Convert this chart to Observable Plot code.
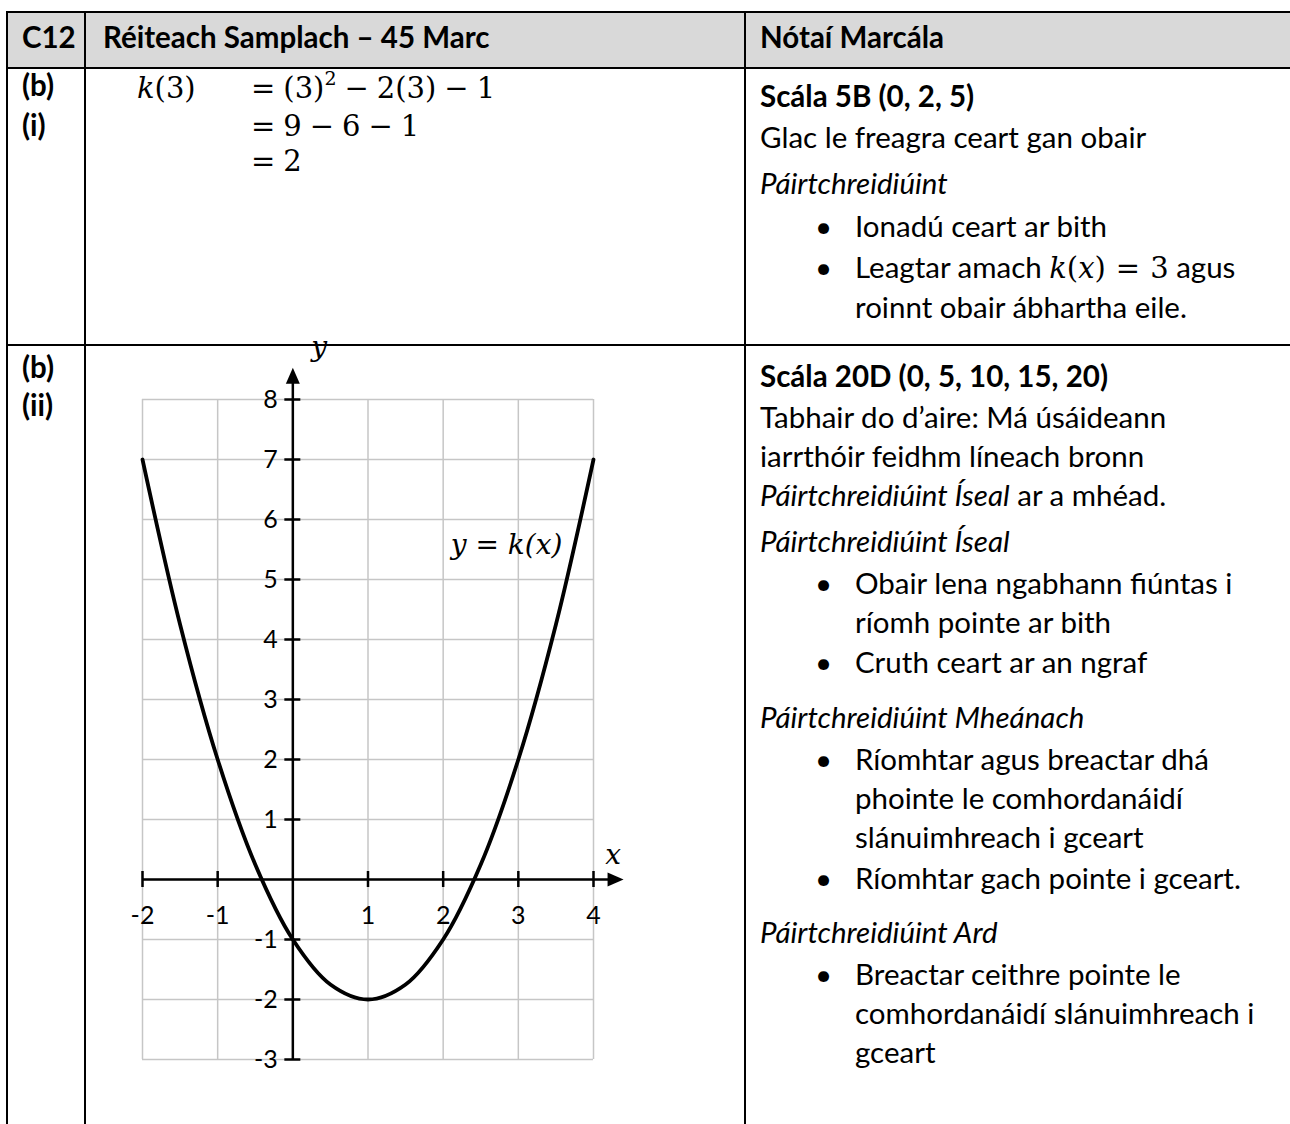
<!DOCTYPE html>
<html><head><meta charset="utf-8">
<script src="https://cdn.jsdelivr.net/npm/d3@7"></script>
<script src="https://cdn.jsdelivr.net/npm/@observablehq/plot@0.6"></script>
<style>
html,body{margin:0;padding:0;background:#fff;}
body{width:1290px;height:1124px;position:relative;overflow:hidden;font-family:Lato,"Open Sans",sans-serif;color:#000;}
.t{position:absolute;white-space:nowrap;font-size:29.5px;}
.b{font-weight:bold;}
.m{font-family:"DejaVu Serif",serif;font-size:29px;}
.mm{font-family:"DejaVu Serif",serif;font-size:29px;}
.op{display:inline-block;margin:0 8px;}
.mm .op{margin:0 10px;}
.ln{position:absolute;background:#000;}
#hdr{position:absolute;left:7px;top:12px;width:1283px;height:56px;background:#d9d9d9;}
#chart{position:absolute;left:100px;top:330px;}
</style></head>
<body>
<div id="hdr"></div>
<div id="page"></div>
<div id="chart"></div>
<script>
// ---- data ----
const xValues = [-2, -1.5, -1, -0.5, 0, 0.5, 1, 1.5, 2, 2.5, 3, 3.5, 4];
const kValues = [7, 4.25, 2, 0.25, -1, -1.75, -2, -1.75, -1, 0.25, 2, 4.25, 7];
const xTicks = [-2, -1, 1, 2, 3, 4];
const yTicks = [-3, -2, -1, 1, 2, 3, 4, 5, 6, 7, 8];
const xGrid = [-2, -1, 0, 1, 2, 3, 4];
const yGrid = [-3, -2, -1, 0, 1, 2, 3, 4, 5, 6, 7, 8];
const xAxisEnd = 4.4;
const yAxisEnd = 8.53;
const curveLabel = "y = k(x)";

const headerTexts = ["C12", "Réiteach Samplach – 45 Marc", "Nótaí Marcála"];
const partLabels = [["(b)", "(i)"], ["(b)", "(ii)"]];
const workingLines = [
  "<i>k</i>(3)",
  "<span class='op' style='margin-left:0'>=</span>(3)<sup style='font-size:19px;vertical-align:13px;line-height:0'>2</sup><span class='op'>−</span>2(3)<span class='op'>−</span>1",
  "<span class='op' style='margin-left:0'>=</span>9<span class='op'>−</span>6<span class='op'>−</span>1",
  "<span class='op' style='margin-left:0'>=</span>2"
];
const notes1 = [
  ["h", "<b>Scála 5B (0, 2, 5)</b>"],
  ["p", "Glac le freagra ceart gan obair"],
  ["p", "<i>Páirtchreidiúint</i>"],
  ["bul", "Ionadú ceart ar bith"],
  ["bul", "Leagtar amach <span class='mm'><i>k</i>(<i>x</i>)<span class='op'>=</span>3</span> agus"],
  ["cont", "roinnt obair ábhartha eile."]
];
const notes2 = [
  ["h", "<b>Scála 20D (0, 5, 10, 15, 20)</b>"],
  ["p", "Tabhair do d’aire: Má úsáideann"],
  ["p", "iarrthóir feidhm líneach bronn"],
  ["p", "<i>Páirtchreidiúint Íseal</i> ar a mhéad."],
  ["p", "<i>Páirtchreidiúint Íseal</i>"],
  ["bul", "Obair lena ngabhann fiúntas i"],
  ["cont", "ríomh pointe ar bith"],
  ["bul", "Cruth ceart ar an ngraf"],
  ["p", "<i>Páirtchreidiúint Mheánach</i>"],
  ["bul", "Ríomhtar agus breactar dhá"],
  ["cont", "phointe le comhordanáidí"],
  ["cont", "slánuimhreach i gceart"],
  ["bul", "Ríomhtar gach pointe i gceart."],
  ["p", "<i>Páirtchreidiúint Ard</i>"],
  ["bul", "Breactar ceithre pointe le"],
  ["cont", "comhordanáidí slánuimhreach i"],
  ["cont", "gceart"]
];

// ---- layout ----
const page = document.getElementById("page");
function place(html, x, yc, cls, lh = 34) {
  const d = document.createElement("div");
  d.className = "t " + (cls || "");
  d.style.left = x + "px";
  d.style.top = (yc - lh * 0.6) + "px";
  d.style.lineHeight = lh + "px";
  d.innerHTML = html;
  page.appendChild(d);
  return d;
}
function line(x, y, w, h) {
  const d = document.createElement("div");
  d.className = "ln";
  Object.assign(d.style, {left: x + "px", top: y + "px", width: w + "px", height: h + "px"});
  page.appendChild(d);
}
// borders
line(6, 11, 1284, 2);
line(6, 67, 1284, 2);
line(6, 344, 1284, 2);
line(6, 11, 2, 1113);
line(84, 11, 2, 1113);
line(744, 11, 2, 1113);

place(headerTexts[0], 22, 40, "b");
place(headerTexts[1], 103, 40, "b");
place(headerTexts[2], 760, 40, "b");

place(partLabels[0][0], 22, 88, "b");
place(partLabels[0][1], 22, 128, "b");
place(partLabels[1][0], 22, 370, "b");
place(partLabels[1][1], 22, 408, "b");

const wy = [91, 129, 164];
place(workingLines[0], 137, wy[0], "m");
place(workingLines[1], 251, wy[0], "m");
place(workingLines[2], 251, wy[1], "m");
place(workingLines[3], 251, wy[2], "m");

const ys1 = [99, 140, 186, 229, 270, 310];
const ys2 = [379, 420, 459, 498, 544, 586, 625, 665, 720, 762, 801, 840, 881, 935, 977, 1016, 1055];
function notes(list, ys) {
  list.forEach(([kind, html], i) => {
    const y = ys[i];
    if (kind === "bul") {
      place("•", 815, y, "");
      place(html, 855, y, "");
    } else if (kind === "cont") {
      place(html, 855, y, "");
    } else {
      place(html, 760, y, "");
    }
  });
}
notes(notes1, ys1);
notes(notes2, ys2);

// ---- chart ----
const curve = xValues.map((x, i) => ({x, y: kValues[i]}));
const arrowHead = {
  draw(ctx, size) {
    const L = 16, W = 14;
    ctx.moveTo(0, 0);
    ctx.lineTo(-L, -W / 2);
    ctx.lineTo(-L, W / 2);
    ctx.closePath();
  }
};
const gridColor = "#c6c6c6";
const chart = Plot.plot({
  width: 560,
  height: 780,
  marginLeft: 42,
  marginRight: 67,
  marginTop: 69,
  marginBottom: 51,
  x: {domain: [-2, 4], axis: null},
  y: {domain: [-3, 8], axis: null},
  style: {background: "transparent", overflow: "visible"},
  marks: [
    Plot.ruleX(xGrid, {x: d => d, y1: -3, y2: 8, stroke: gridColor, strokeWidth: 1.5}),
    Plot.ruleY(yGrid, {y: d => d, x1: -2, x2: 4, stroke: gridColor, strokeWidth: 1.5}),
    Plot.ruleY([0], {x1: -2, x2: xAxisEnd - 0.15, stroke: "#000", strokeWidth: 2.5}),
    Plot.ruleX([0], {y1: -3, y2: yAxisEnd - 0.2, stroke: "#000", strokeWidth: 2.5}),
    Plot.ruleX(xTicks, {x: d => d, y1: 0, y2: 0, insetTop: -8, insetBottom: -8, stroke: "#000", strokeWidth: 2.5}),
    Plot.ruleY(yTicks, {y: d => d, x1: 0, x2: 0, insetLeft: -8, insetRight: -8, stroke: "#000", strokeWidth: 2.5}),
    Plot.dot([{x: xAxisEnd, y: 0, r: 0}, {x: 0, y: yAxisEnd, r: -90}], {x: "x", y: "y", rotate: "r", symbol: arrowHead, fill: "#000", stroke: null, r: 5}),
    Plot.text(xTicks, {x: d => d, y: 0, dy: 36, text: d => String(d), fontSize: 25, fontFamily: "Lato", fill: "#000"}),
    Plot.text(yTicks, {x: 0, y: d => d, dx: -15, text: d => String(d), textAnchor: "end", fontSize: 25, fontFamily: "Lato", fill: "#000"}),
    Plot.line(curve, {x: "x", y: "y", curve: "catmull-rom", stroke: "#000", strokeWidth: 3.8}),
    Plot.text([{x: 2.1, y: 5.58}], {x: "x", y: "y", text: () => curveLabel, textAnchor: "start", fontSize: 28, fontStyle: "italic", fontFamily: "DejaVu Serif", fill: "#000"}),
    Plot.text([{x: 4.26, y: 0.4, t: "x"}, {x: 0.35, y: 8.87, t: "y"}], {x: "x", y: "y", text: "t", fontSize: 28, fontStyle: "italic", fontFamily: "DejaVu Serif", fill: "#000"})
  ]
});
document.getElementById("chart").appendChild(chart);
</script>
</body></html>
